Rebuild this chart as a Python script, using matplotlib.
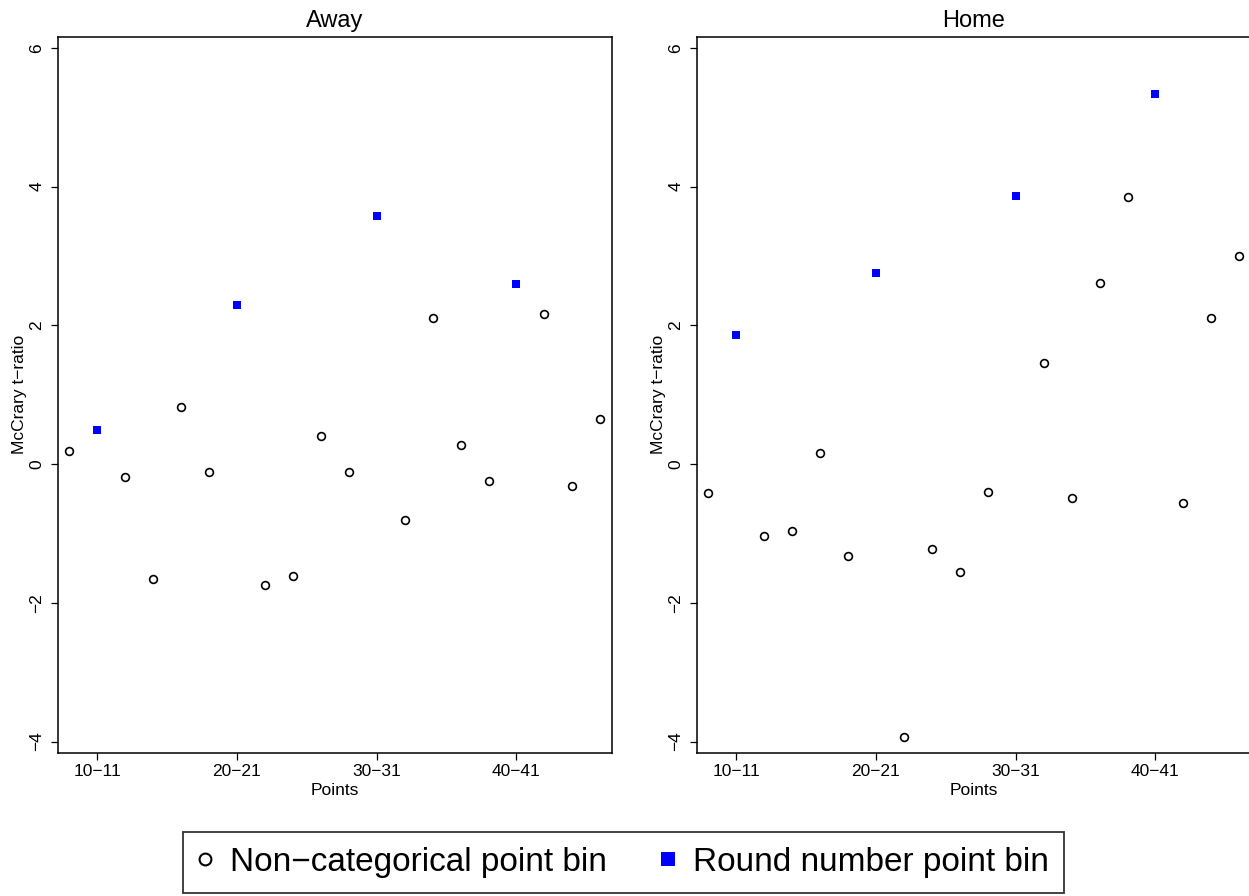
import matplotlib
matplotlib.use("Agg")
import matplotlib.pyplot as plt
from matplotlib.lines import Line2D
import numpy as np

plt.rcParams['font.family'] = ['Liberation Sans', 'DejaVu Sans']

# Lower edge of each two-point bin (8-9, 10-11, ..., 46-47)
bins = np.arange(8, 48, 2)
round_bins = [10, 20, 30, 40]

# McCrary t-ratios per bin
away_t = [0.19, 0.49, -0.18, -1.65, 0.82, -0.12, 2.30, -1.74, -1.61, 0.40,
          -0.12, 3.57, -0.81, 2.10, 0.28, -0.24, 2.60, 2.17, -0.32, 0.65]
home_t = [-0.42, 1.86, -1.03, -0.97, 0.155, -1.33, 2.75, -3.94, -1.22, -1.56,
          -0.40, 3.87, 1.45, -0.49, 2.605, 3.85, 5.33, -0.555, 2.105, 3.00]

xtick_pos = [10, 20, 30, 40]
xtick_labels = ["10\u221211", "20\u221221", "30\u221231", "40\u221241"]
ytick_pos = [-4, -2, 0, 2, 4, 6]

panels = [("Away", away_t), ("Home", home_t)]

fig = plt.figure(figsize=(12.49, 8.96), dpi=100)
W, H = 1249.0, 896.0
ax_w = 553.2 / W
ax_h = 716.0 / H
ax_bottom = 1 - 752.7 / H
lefts = [58.3 / W, 697.3 / W]

blue = "#0000FF"

for (title, vals), left in zip(panels, lefts):
    ax = fig.add_axes([left, ax_bottom, ax_w, ax_h])
    vals = np.asarray(vals)
    is_round = np.isin(bins, round_bins)
    ax.plot(bins[~is_round], vals[~is_round], ls="", marker="o", ms=5.6,
            mfc="none", mec="black", mew=1.2)
    ax.plot(bins[is_round], vals[is_round], ls="", marker="s", ms=6.4,
            mfc=blue, mec=blue, mew=0)
    ax.set_xlim(7.22, 46.8)
    ax.set_ylim(-4.16, 6.16)
    ax.set_xticks(xtick_pos)
    ax.set_xticklabels(xtick_labels, fontsize=12.5)
    ax.set_yticks(ytick_pos)
    ax.set_yticklabels([f"{v}".replace("-", "\u2212") for v in ytick_pos],
                       fontsize=12.5, rotation=90, va="center")
    ax.tick_params(axis="both", direction="out", length=5, width=0.9,
                   color="black")
    ax.tick_params(axis="y", pad=5)
    ax.tick_params(axis="x", pad=3)
    for sp in ax.spines.values():
        sp.set_linewidth(1.1)
        sp.set_color("black")
    ax.set_title(title, fontsize=17, pad=7)
    ax.set_xlabel("Points", fontsize=12.5)
    ax.set_ylabel("McCrary t\u2212ratio", fontsize=12.5)
    ax.xaxis.set_label_coords(0.5, -0.043)
    ax.yaxis.set_label_coords(-0.056, 0.5)

handles = [
    Line2D([], [], ls="", marker="o", ms=8.5, mfc="none", mec="black", mew=1.5),
    Line2D([], [], ls="", marker="s", ms=10, mfc=blue, mec=blue, mew=0),
]
leg = fig.legend(handles, ["Non\u2212categorical point bin", "Round number point bin"],
                 loc="center left", bbox_to_anchor=(183 / W, 1 - 862.5 / H),
                 ncol=2, fontsize=24, frameon=True, fancybox=False,
                 handlelength=0.42, handletextpad=0.54, columnspacing=1.62,
                 borderpad=0.45, borderaxespad=0)
leg.get_frame().set_edgecolor("black")
leg.get_frame().set_linewidth(1.3)

fig.savefig("out.png", dpi=100)
